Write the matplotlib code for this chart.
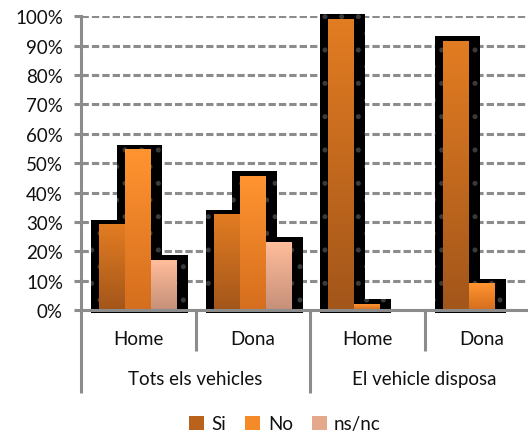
import numpy as np
import matplotlib
matplotlib.use("Agg")
import matplotlib.pyplot as plt
from matplotlib.patches import Rectangle, Patch
from matplotlib.colors import LinearSegmentedColormap
import matplotlib.transforms as mtransforms

# ---- data ----
groups = ["Tots els vehicles", "El vehicle disposa"]
subcats = ["Home", "Dona", "Home", "Dona"]
series = ["Si", "No", "ns/nc"]
si = [29, 32.5, 99, 91.5]
no = [54.5, 45.5, 2, 9]
nsnc = [17, 23, 0, 0]
yticks = [0, 10, 20, 30, 40, 50, 60, 70, 80, 90, 100]

top_cols = ["#E27C22", "#FF9430", "#FFBD9B"]
bot_cols = ["#A3561A", "#D56E1E", "#C69079"]
leg_cols = ["#B9621C", "#F48A28", "#E4A88A"]

plt.rcParams['font.family'] = ['Lato', 'DejaVu Sans']
plt.rcParams['hatch.linewidth'] = 1.2
txt_col = "#111111"
grid_col = "#8c8c8c"
FS = 13.5

W, H = 528, 435
fig = plt.figure(figsize=(W/100, H/100), dpi=100)
left_px, right_px, bot_px, top_px = 81, 539, 311, 17.3
ax = fig.add_axes([left_px/W, 1-bot_px/H, (right_px-left_px)/W, (bot_px-top_px)/H])
ax.set_xlim(0, 4)
ax.set_ylim(0, 100)

cat_px = (right_px-left_px)/4.0
ypx = (bot_px-top_px)/100.0
bw = 26/cat_px
offs = [-bw, 0, bw]
ml, mr, mt, mb = 8/cat_px, 11/cat_px, 5/ypx, 3/ypx

vals = [si, no, nsnc]
# black shadow/outline
for s in range(3):
    for i in range(4):
        v = vals[s][i]
        if v <= 0:
            continue
        x0 = i + 0.5 + offs[s] - bw/2
        r = Rectangle((x0-ml, -mb), bw+ml+mr, v+mt+mb, facecolor="black",
                      zorder=2, clip_on=False, hatch=".")
        r.set_edgecolor("#3a3a3a")
        r.set_linewidth(0)
        ax.add_patch(r)
# gradient bars
grad = np.linspace(0, 1, 64).reshape(-1, 1)
for s in range(3):
    cmap = LinearSegmentedColormap.from_list("c%d" % s, [bot_cols[s], top_cols[s]])
    for i in range(4):
        v = vals[s][i]
        if v <= 0:
            continue
        x0 = i + 0.5 + offs[s] - bw/2
        ax.imshow(grad, cmap=cmap, extent=(x0, x0+bw, 0, v), origin="lower",
                  aspect="auto", zorder=3, interpolation="bilinear")
ax.set_xlim(0, 4)
ax.set_ylim(0, 100)

# grid
ax.set_yticks(yticks)
ax.set_yticklabels([f"{t}%" for t in yticks], color=txt_col, fontsize=FS)
ax.yaxis.grid(True, color=grid_col, linewidth=2.2, linestyle=(0, (2.4, 1.0)), zorder=1)
ax.set_axisbelow(True)
ax.tick_params(axis="y", length=5, width=2.2, color=grid_col, pad=8)
ax.set_xticks([])
for sp in ["top", "right"]:
    ax.spines[sp].set_visible(False)
ax.spines["left"].set_color(grid_col)
ax.spines["left"].set_linewidth(2.2)
ax.spines["bottom"].set_color(grid_col)
ax.spines["bottom"].set_linewidth(2.2)
ax.spines["bottom"].set_zorder(5)

trans = mtransforms.blended_transform_factory(ax.transData, ax.transAxes)
hgt = bot_px - top_px
def yfrac(py):
    return (bot_px - py) / hgt

# separators
for xb, ybot in [(0, 394), (1, 352), (2, 394), (3, 352), (4, 394)]:
    ax.plot([xb, xb], [0, yfrac(ybot)], color=grid_col, lw=2.2, transform=trans,
            clip_on=False, zorder=5, solid_capstyle="butt")

for i, lab in enumerate(subcats):
    ax.text(i + 0.5, yfrac(340), lab, transform=trans, ha="center", va="center",
            fontsize=FS, color=txt_col)
for g, lab in enumerate(groups):
    ax.text(2*g + 1, yfrac(380), lab, transform=trans, ha="center", va="center",
            fontsize=FS, color=txt_col)

handles = [Patch(facecolor=c, edgecolor="none") for c in leg_cols]
fig.legend(handles, series, loc="center", bbox_to_anchor=(285/W, 1-425/H), ncol=3,
           frameon=False, fontsize=FS, handlelength=0.8, handleheight=0.8,
           handletextpad=0.4, columnspacing=1.0, labelcolor=txt_col)

fig.savefig("out.png", dpi=100)
